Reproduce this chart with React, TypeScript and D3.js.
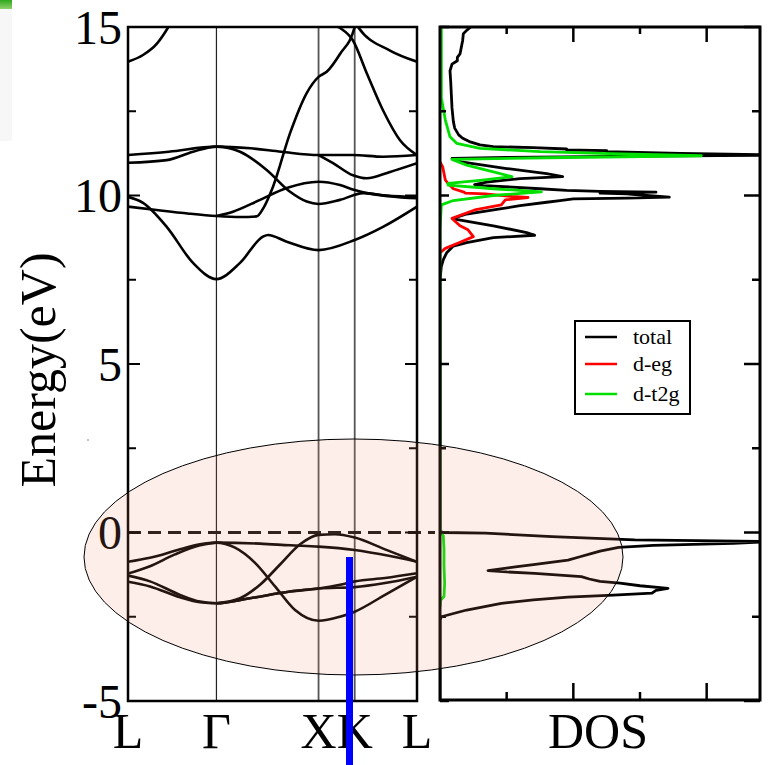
import React from 'react';
import * as d3 from 'd3';

// ---------- data ----------
const kPoints = [0, 0.866, 1.866, 2.22, 2.83];
const kLabels = ['L', 'Γ', 'X', 'K', 'L'];
const yMajorTicks = [-5, 0, 5, 10, 15];
const yMinorTicks = [-2.5, 2.5, 7.5, 12.5];
const yTickLabels = ['-5', '0', '5', '10', '15'];
const dosMajorTicks = [1, 2];
const dosMinorTicks = [0.5, 1.5];
const legendLabels = ['total', 'd-eg', 'd-t2g'];

// bands: [k, E]
const bandT1 = [[0, 13.97], [0.147, 14.17], [0.281, 14.5], [0.395, 15.0], [0.5, 15.6]];
const bandU2 = [[0, 9.67], [0.3, 9.56], [0.6, 9.46], [0.866, 9.39], [1.1, 9.36], [1.26, 9.38], [1.33, 9.65], [1.42, 10.26], [1.587, 11.85], [1.75, 13.04], [1.866, 13.52], [1.946, 13.67], [2.076, 14.2], [2.22, 15.0], [2.236, 15.25], [2.253, 15.0], [2.566, 14.3], [2.83, 13.97]];
const bandU3 = [[1.866, 15.6], [2.0, 15.1], [2.076, 14.97], [2.203, 14.6], [2.338, 13.63], [2.497, 12.53], [2.664, 11.64], [2.83, 11.2]];
const bandU4 = [[0, 11.2], [0.4, 11.3], [0.866, 11.45], [1.2, 11.4], [1.5, 11.3], [1.866, 11.2], [2.2, 11.2], [2.5, 11.15], [2.83, 11.2]];
const bandB2 = [[1.866, 11.2], [2.008, 10.96], [2.203, 10.6], [2.338, 10.51], [2.566, 10.7], [2.83, 10.96]];
const bandU5 = [[0, 10.97], [0.379, 11.05], [0.637, 11.3], [0.866, 11.45], [1.097, 11.3], [1.358, 10.76], [1.587, 10.11], [1.75, 9.82], [1.866, 9.75], [2.076, 9.87], [2.301, 10.07], [2.534, 10.0], [2.83, 9.95]];
const bandD = [[0.866, 9.39], [1.028, 9.52], [1.293, 9.87], [1.554, 10.22], [1.866, 10.41], [2.076, 10.31], [2.22, 10.16], [2.338, 10.07], [2.83, 9.92]];
const bandU1 = [[0, 9.96], [0.147, 9.78], [0.379, 9.07], [0.637, 8.0], [0.866, 7.52], [1.097, 8.0], [1.322, 8.78], [1.371, 8.83], [1.554, 8.63], [1.866, 8.38], [2.22, 8.68], [2.497, 9.07], [2.83, 9.67]];
const bandVa = [[0, -0.87], [0.215, -0.75], [0.509, -0.5], [0.705, -0.35], [0.866, -0.3], [1.293, -0.33], [1.587, -0.38], [1.866, -0.42], [2.22, -0.52], [2.566, -0.7], [2.83, -0.87]];
const bandVb = [[0, -1.22], [0.215, -1.0], [0.46, -0.65], [0.705, -0.38], [0.866, -0.3], [1.048, -0.45], [1.244, -0.9], [1.44, -1.6], [1.636, -2.3], [1.866, -2.62], [2.076, -2.5], [2.22, -2.35], [2.517, -1.85], [2.83, -1.31]];
const bandVc = [[0.866, -2.1], [1.097, -1.95], [1.293, -1.55], [1.489, -0.95], [1.685, -0.35], [1.866, -0.07], [2.027, -0.05], [2.22, -0.15], [2.517, -0.5], [2.83, -0.87]];
const bandVd = [[0, -1.28], [0.215, -1.45], [0.509, -1.85], [0.705, -2.05], [0.866, -2.1], [1.195, -1.95], [1.587, -1.75], [1.866, -1.66], [2.22, -1.62], [2.517, -1.5], [2.83, -1.31]];
const bandVe = [[0, -1.46], [0.215, -1.6], [0.509, -1.92], [0.705, -2.07], [0.866, -2.1], [1.195, -1.95], [1.587, -1.75], [1.866, -1.66], [2.076, -1.55], [2.22, -1.45], [2.517, -1.35], [2.83, -1.21]];
const bands = [bandT1, bandU2, bandU3, bandU4, bandB2, bandU5, bandD, bandU1, bandVa, bandVb, bandVc, bandVd, bandVe];

// DOS: [E, value]
const dosTotal = [
  [15.0, 0.23], [14.9, 0.2], [14.8, 0.175], [14.6, 0.17], [14.4, 0.16], [14.2, 0.15], [14.1, 0.13], [14.0, 0.13], [13.9, 0.09], [13.7, 0.075], [13.4, 0.08], [13.0, 0.085], [12.6, 0.09], [12.2, 0.1], [12.0, 0.11], [11.8, 0.14], [11.7, 0.17], [11.6, 0.22], [11.5, 0.3], [11.45, 0.4], [11.42, 0.7], [11.38, 0.95], [11.35, 0.95], [11.33, 1.25], [11.3, 1.25], [11.25, 1.8], [11.2, 2.6], [11.17, 1.5], [11.13, 0.5], [11.1, 0.09], [11.05, 0.12], [11.0, 0.16], [10.8, 0.5], [10.65, 0.8], [10.56, 0.92], [10.5, 0.6], [10.4, 0.35], [10.32, 0.26], [10.28, 0.4], [10.2, 0.75], [10.15, 0.95], [10.12, 1.2], [10.1, 1.62], [10.07, 1.2], [10.05, 1.4], [10.0, 1.55], [9.95, 1.72], [9.92, 1.4], [9.9, 1.0], [9.85, 0.9], [9.8, 0.8], [9.7, 0.6], [9.6, 0.45], [9.45, 0.2], [9.35, 0.12], [9.3, 0.11], [9.1, 0.4], [8.9, 0.65], [8.82, 0.71], [8.75, 0.4], [8.6, 0.2], [8.5, 0.1], [8.3, 0.05], [8.1, 0.025], [7.9, 0.01], [7.5, 0], [0.05, 0],
  [0.0, 0.02], [-0.02, 0.34], [-0.12, 0.84], [-0.22, 1.46], [-0.27, 2.5], [-0.32, 2.2], [-0.38, 1.6], [-0.44, 1.34], [-0.55, 1.2], [-0.62, 1.14], [-0.72, 1.05], [-0.82, 0.96], [-0.95, 0.7], [-1.01, 0.58], [-1.13, 0.36], [-1.17, 0.5], [-1.21, 0.71], [-1.31, 1.06], [-1.38, 1.12], [-1.45, 1.2], [-1.5, 1.35], [-1.58, 1.5], [-1.66, 1.71], [-1.72, 1.62], [-1.8, 1.59], [-1.86, 1.3], [-1.92, 0.96], [-2.0, 0.7], [-2.1, 0.46], [-2.3, 0.2], [-2.5, 0.01], [-2.6, 0], [-5, 0],
];
const dosEg = [[11.0, 0], [10.85, 0.02], [10.46, 0.04], [10.36, 0.06], [10.2, 0.1], [10.1, 0.18], [10.07, 0.19], [10.05, 0.34], [9.97, 0.54], [9.94, 0.66], [9.87, 0.49], [9.72, 0.46], [9.57, 0.26], [9.32, 0.09], [9.1, 0.15], [8.98, 0.21], [8.78, 0.25], [8.63, 0.16], [8.43, 0.04], [8.3, 0]];
const dosT2g = [[15.0, 0.01], [12.9, 0.01], [12.24, 0.04], [11.74, 0.075], [11.55, 0.125], [11.4, 0.3], [11.3, 0.75], [11.25, 1.2], [11.18, 1.96], [11.12, 0.8], [11.07, 0.09], [10.9, 0.2], [10.7, 0.4], [10.56, 0.54], [10.45, 0.3], [10.36, 0.06], [10.31, 0.06], [10.2, 0.4], [10.11, 0.76], [10.0, 0.4], [9.85, 0.1], [9.72, 0.01], [9.0, 0], [0.05, 0], [0.0, 0.01], [-0.1, 0.025], [-0.5, 0.03], [-1.0, 0.03], [-1.5, 0.035], [-1.9, 0.03], [-2.0, 0.005], [-2.2, 0]];
const dosSeries = [dosTotal, dosEg, dosT2g];
const dosColors = ['#000000', '#ff0000', '#00e000'];

// ---------- layout ----------
const W = 773, H = 765;
const LP = { x0: 128, x1: 417, y0: 27, y1: 701 };
const RP = { x0: 440, x1: 760, y0: 27, y1: 700 };
const FONT = '"Liberation Serif", "Times New Roman", serif';

export default function App() {
  const y = d3.scaleLinear().domain([-5, 15]).range([LP.y1, LP.y0]);
  const k = d3.scaleLinear().domain([0, 2.83]).range([LP.x0, LP.x1]);
  const dx = d3.scaleLinear().domain([0, 2.4]).range([RP.x0, RP.x1]);

  const bandLine = d3.line<number[]>().x(d => k(d[0])).y(d => y(d[1])).curve(d3.curveMonotoneX);
  const dosLine = d3.line<number[]>().x(d => dx(d[1])).y(d => y(d[0]));

  const leftTicks: JSX.Element[] = [];
  yMajorTicks.forEach((v, i) => {
    leftTicks.push(<line key={'lm' + i} x1={LP.x0} x2={LP.x0 + 12} y1={y(v)} y2={y(v)} stroke="#000" strokeWidth={2} />);
    leftTicks.push(<line key={'rm' + i} x1={LP.x1 - 12} x2={LP.x1} y1={y(v)} y2={y(v)} stroke="#000" strokeWidth={2} />);
    leftTicks.push(<line key={'dlm' + i} x1={RP.x0} x2={RP.x0 + 9} y1={y(v)} y2={y(v)} stroke="#000" strokeWidth={2.5} />);
    leftTicks.push(<line key={'drm' + i} x1={RP.x1 - 16} x2={RP.x1} y1={y(v)} y2={y(v)} stroke="#000" strokeWidth={2.5} />);
  });
  yMinorTicks.forEach((v, i) => {
    leftTicks.push(<line key={'ln' + i} x1={LP.x0} x2={LP.x0 + 8} y1={y(v)} y2={y(v)} stroke="#000" strokeWidth={2} />);
    leftTicks.push(<line key={'rn' + i} x1={LP.x1 - 8} x2={LP.x1} y1={y(v)} y2={y(v)} stroke="#000" strokeWidth={2} />);
    leftTicks.push(<line key={'dln' + i} x1={RP.x0} x2={RP.x0 + 6} y1={y(v)} y2={y(v)} stroke="#000" strokeWidth={2.5} />);
    leftTicks.push(<line key={'drn' + i} x1={RP.x1 - 8} x2={RP.x1} y1={y(v)} y2={y(v)} stroke="#000" strokeWidth={2.5} />);
  });

  return (
    <svg width={W} height={H} style={{ position: 'absolute', left: 0, top: 0, background: '#fff' }} fontFamily={FONT}>
      <defs>
        <clipPath id="clipL"><rect x={LP.x0} y={LP.y0} width={LP.x1 - LP.x0} height={LP.y1 - LP.y0} /></clipPath>
        <clipPath id="clipR"><rect x={RP.x0} y={RP.y0} width={RP.x1 - RP.x0} height={RP.y1 - RP.y0} /></clipPath>
        <linearGradient id="gbar" x1="0" y1="0" x2="0" y2="1">
          <stop offset="0" stopColor="#2fa81c" />
          <stop offset="1" stopColor="#8fd06a" />
        </linearGradient>
      </defs>
      <rect x={0} y={0} width={W} height={H} fill="#fff" />
      {/* screenshot artifact top-left */}
      <rect x={0} y={9} width={12} height={132} fill="#f7f7f7" />
      <rect x={0} y={0} width={12} height={9} fill="url(#gbar)" />

      {/* high-symmetry lines */}
      {kPoints.slice(1, 4).map((kv, i) => (
        <line key={'hs' + i} x1={k(kv)} x2={k(kv)} y1={LP.y0} y2={LP.y1} stroke={i === 0 ? '#222' : '#555'} strokeWidth={i === 0 ? 1.2 : 1.8} />
      ))}

      {/* bands */}
      <g clipPath="url(#clipL)">
        {bands.map((b, i) => (
          <path key={'b' + i} d={bandLine(b as number[][]) || ''} fill="none" stroke="#000" strokeWidth={2.6} />
        ))}
      </g>

      {/* Fermi level */}
      <line x1={LP.x0} x2={435} y1={y(0)} y2={y(0)} stroke="#111" strokeWidth={2.8} strokeDasharray="13,7" />

      {/* DOS */}
      <g clipPath="url(#clipR)">
        {dosSeries.map((s, i) => (
          <path key={'d' + i} d={dosLine(s as number[][]) || ''} fill="none" stroke={dosColors[i]} strokeWidth={2.8} strokeLinejoin="round" />
        ))}
      </g>

      {/* frames */}
      <rect x={LP.x0} y={LP.y0} width={LP.x1 - LP.x0} height={LP.y1 - LP.y0} fill="none" stroke="#000" strokeWidth={2.5} />
      <rect x={RP.x0} y={RP.y0} width={RP.x1 - RP.x0} height={RP.y1 - RP.y0} fill="none" stroke="#000" strokeWidth={3} />
      {leftTicks}
      {dosMajorTicks.map((v, i) => (
        <g key={'dxm' + i}>
          <line x1={dx(v)} x2={dx(v)} y1={RP.y0} y2={RP.y0 + 15} stroke="#000" strokeWidth={2.5} />
          <line x1={dx(v)} x2={dx(v)} y1={RP.y1 - 17} y2={RP.y1} stroke="#000" strokeWidth={2.5} />
        </g>
      ))}
      {dosMinorTicks.map((v, i) => (
        <g key={'dxn' + i}>
          <line x1={dx(v)} x2={dx(v)} y1={RP.y0} y2={RP.y0 + 7} stroke="#000" strokeWidth={2.5} />
          <line x1={dx(v)} x2={dx(v)} y1={RP.y1 - 8} y2={RP.y1} stroke="#000" strokeWidth={2.5} />
        </g>
      ))}

      {/* legend */}
      <rect x={575} y={321} width={115} height={93} fill="#fff" stroke="#000" strokeWidth={2} />
      {legendLabels.map((t, i) => {
        const ly = [337, 364, 394][i];
        return (
          <g key={'lg' + i}>
            <line x1={585} x2={617} y1={ly} y2={ly} stroke={dosColors[i]} strokeWidth={2.5} />
            <text x={633} y={ly + 7} fontSize={22} fill="#000">{t}</text>
          </g>
        );
      })}

      {/* axis labels */}
      {yMajorTicks.map((v, i) => (
        <text key={'yl' + i} x={122} y={y(v)} dy="0.35em" textAnchor="end" fontSize={48} fill="#000">{yTickLabels[i]}</text>
      ))}
      {kPoints.map((kv, i) => (
        <text key={'kl' + i} x={k(kv)} y={748} textAnchor="middle" fontSize={50} fill="#000">{kLabels[i]}</text>
      ))}
      <text x={598} y={748} textAnchor="middle" fontSize={50} fill="#000">DOS</text>
      <text transform="translate(55,370) rotate(-90)" textAnchor="middle" fontSize={50} fill="#000">Energy(eV)</text>

      {/* highlight overlay */}
      <ellipse cx={353.5} cy={557} rx={269.5} ry={118} fill="rgb(242,142,115)" fillOpacity={0.15} stroke="#000" strokeWidth={1} />
      <rect x={346} y={557} width={7} height={H - 557} fill="#0000ff" />
      <circle cx={88} cy={440} r={0.8} fill="#777" />
      <circle cx={612} cy={738} r={0.8} fill="#777" />
    </svg>
  );
}
